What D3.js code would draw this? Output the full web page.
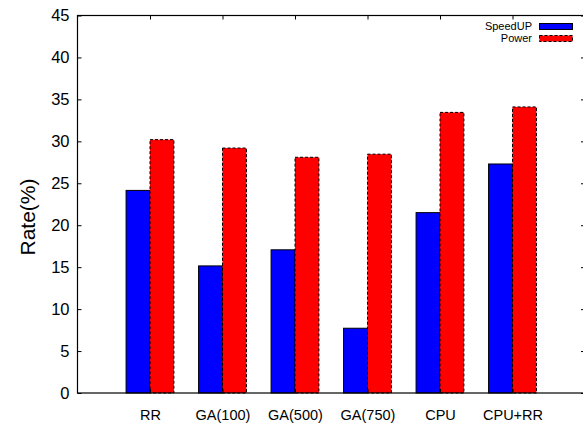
<!DOCTYPE html>
<html><head><meta charset="utf-8">
<script src="https://cdn.jsdelivr.net/npm/d3@7/dist/d3.min.js"></script>
<style>body{margin:0;background:#fff}svg{display:block}text{font-family:"Liberation Sans",Arial,sans-serif}</style>
</head><body>
<script>
const categories = ["RR","GA(100)","GA(500)","GA(750)","CPU","CPU+RR"];
const speedup = [24.15, 15.15, 17.07, 7.72, 21.5, 27.3];
const power = [30.2, 29.2, 28.1, 28.47, 33.45, 34.1];
const yTicks = [0,5,10,15,20,25,30,35,40,45];
const seriesNames = ["SpeedUP","Power"];

const W=583,H=427;
const pL=77.5,pR=585,pT=15.5,pB=393;
const svg=d3.select("body").append("svg").attr("width",W).attr("height",H);
const x=d3.scaleLinear().domain([0,categories.length+1]).range([pL,pR]);
const y=d3.scaleLinear().domain([0,45]).range([pB,pT]);
const slot=x(1)-x(0), bw=slot*0.33;

// bars
const g=svg.append("g");
categories.forEach((c,i)=>{
  const cx=x(i+1);
  g.append("rect").attr("x",cx-bw).attr("y",y(speedup[i])).attr("width",bw).attr("height",y(0)-y(speedup[i]))
   .attr("fill","#0000ff").attr("stroke","#000").attr("stroke-width",1);
  g.append("rect").attr("x",cx).attr("y",y(power[i])).attr("width",bw).attr("height",y(0)-y(power[i]))
   .attr("fill","#ff0000").attr("stroke","#000").attr("stroke-width",1).attr("stroke-dasharray","3,2");
});

// frame
svg.append("rect").attr("x",pL).attr("y",pT).attr("width",pR-pL).attr("height",pB-pT)
  .attr("fill","none").attr("stroke","#000").attr("stroke-width",1.2);

// left axis
const la=svg.append("g").attr("transform",`translate(${pL},0)`)
  .call(d3.axisLeft(y).tickValues(yTicks).tickSize(-4).tickPadding(8));
la.select(".domain").remove();
la.selectAll("line").attr("stroke","#000");
la.selectAll("text").attr("font-size","16.5px").attr("fill","#000").style("font-family",'"Liberation Sans",Arial,sans-serif');
// right mirror ticks
const ra=svg.append("g").attr("transform",`translate(${pR},0)`)
  .call(d3.axisRight(y).tickValues(yTicks).tickSize(-4).tickFormat(""));
ra.select(".domain").remove();
ra.selectAll("line").attr("stroke","#000");

// top mirror ticks
const ta=svg.append("g").attr("transform",`translate(0,${pT})`)
  .call(d3.axisTop(x).tickValues(d3.range(1,categories.length+1)).tickSize(-4).tickFormat(""));
ta.select(".domain").remove();
ta.selectAll("line").attr("stroke","#000");

// bottom axis labels
const ba=svg.append("g").attr("transform",`translate(0,${pB})`)
  .call(d3.axisBottom(x).tickValues(d3.range(1,categories.length+1)).tickSize(-4).tickPadding(17).tickFormat(d=>categories[d-1]));
ba.select(".domain").remove();
ba.selectAll("line").attr("stroke","#000");
ba.selectAll("text").attr("font-size","14.5px").attr("fill","#000").style("font-family",'"Liberation Sans",Arial,sans-serif');

// y label
svg.append("text").attr("transform","translate(35,217) rotate(-90)").attr("text-anchor","middle")
  .attr("font-size","21px").text("Rate(%)");

// legend
const lg=svg.append("g");
const colors=["#0000ff","#ff0000"];
seriesNames.forEach((n,i)=>{
  const yy=26.5+i*12;
  lg.append("text").attr("x",532).attr("y",yy).attr("dy","0.35em").attr("text-anchor","end").attr("font-size","11px").text(n);
  lg.append("rect").attr("x",539.5).attr("y",yy-3).attr("width",33).attr("height",6)
    .attr("fill",colors[i]).attr("stroke","#000").attr("stroke-width",1).attr("stroke-dasharray",i?"3,2":null);
});
</script>
</body></html>
